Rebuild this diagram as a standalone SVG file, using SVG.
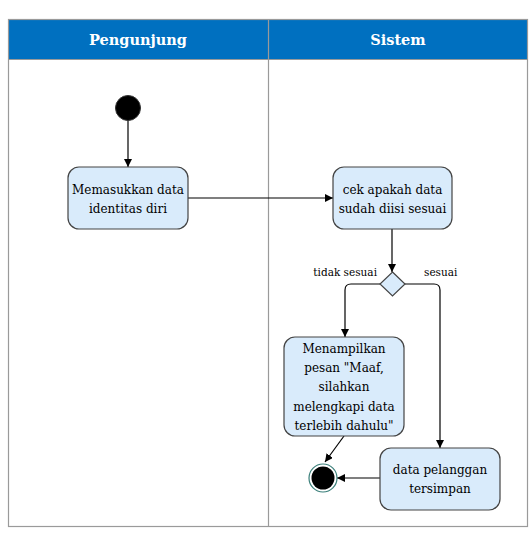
<svg xmlns="http://www.w3.org/2000/svg" width="531" height="540" viewBox="0 0 531 540">
<defs>
<style>
.lane{fill:none;stroke:#9a9a9a;stroke-width:1.2}
.hdr{fill:#0070C0;stroke:#9a9a9a;stroke-width:1}
.ht{font-weight:bold;font-size:14.5px;fill:#fff;text-anchor:middle}
.act{fill:#D9EBFB;stroke:#444;stroke-width:1.2}
.t{font-size:12px;fill:#000;text-anchor:middle}
.lbl{font-size:10.5px;fill:#000}
.c{fill:none;stroke:#000;stroke-width:1.2}
</style>
<marker id="ah" viewBox="0 0 10 10" refX="10" refY="5" markerWidth="8" markerHeight="8" markerUnits="userSpaceOnUse" orient="auto">
<path d="M0,0 L10,5 L0,10 z" fill="#000"/>
</marker>
</defs>
<rect x="0" y="0" width="531" height="540" fill="#fff"/>
<g font-family="DejaVu Serif, Liberation Serif, serif">
<g id="lanes">
<rect class="hdr" x="8.5" y="19.5" width="519" height="40"/>
<rect class="lane" x="8.5" y="19.5" width="519" height="507"/>
<line class="lane" x1="268.5" y1="19.5" x2="268.5" y2="526.5"/>
<text class="ht" x="138" y="45">Pengunjung</text>
<text class="ht" x="398" y="45">Sistem</text>
</g>
<g id="connectors">
<line class="c" x1="128" y1="120" x2="128" y2="167" marker-end="url(#ah)"/>
<line class="c" x1="188" y1="198" x2="333" y2="198" marker-end="url(#ah)"/>
<line class="c" x1="392" y1="229" x2="392" y2="272" marker-end="url(#ah)"/>
<path class="c" d="M380,284 L351,284 Q345,284 345,290 L345,337" marker-end="url(#ah)"/>
<path class="c" d="M405,284 L434,284 Q440,284 440,290 L440,448" marker-end="url(#ah)"/>
<line class="c" x1="344" y1="436" x2="325" y2="462" marker-end="url(#ah)"/>
<line class="c" x1="380" y1="478" x2="337" y2="478" marker-end="url(#ah)"/>
<text class="lbl" x="377" y="276" text-anchor="end">tidak sesuai</text>
<text class="lbl" x="424" y="276">sesuai</text>
</g>
<g id="start">
<circle cx="128" cy="108" r="12.5" fill="#000" stroke="#333" stroke-width="1"/>
</g>
<g id="n1">
<rect class="act" x="68" y="167" width="120" height="62" rx="11"/>
<text class="t" x="128" y="194">Memasukkan data</text>
<text class="t" x="128" y="213">identitas diri</text>
</g>
<g id="n2">
<rect class="act" x="333" y="167" width="119" height="62" rx="11"/>
<text class="t" x="392.5" y="194">cek apakah data</text>
<text class="t" x="392.5" y="213">sudah diisi sesuai</text>
</g>
<g id="decision">
<polygon class="act" points="392.5,272 405,284 392.5,296 380,284"/>
</g>
<g id="n3">
<rect class="act" x="284" y="337" width="120" height="99" rx="11"/>
<text class="t" x="344" y="353">Menampilkan</text>
<text class="t" x="344" y="372">pesan "Maaf,</text>
<text class="t" x="344" y="391">silahkan</text>
<text class="t" x="344" y="411">melengkapi data</text>
<text class="t" x="344" y="430">terlebih dahulu"</text>
</g>
<g id="n4">
<rect class="act" x="380" y="448" width="120" height="62" rx="11"/>
<text class="t" x="440" y="474">data pelanggan</text>
<text class="t" x="440" y="493">tersimpan</text>
</g>
<g id="end">
<circle cx="323" cy="478" r="14" fill="#fff" stroke="#3a7f7a" stroke-width="1.2"/>
<circle cx="323" cy="478" r="11.5" fill="#000"/>
</g>
</g>
</svg>
